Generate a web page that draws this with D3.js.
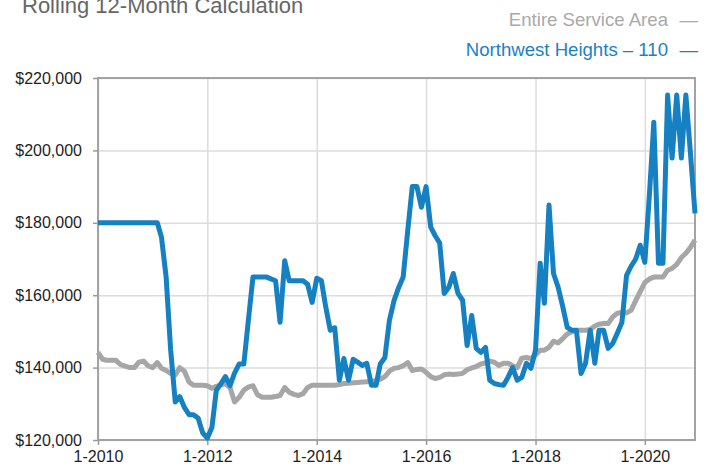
<!DOCTYPE html>
<html>
<head>
<meta charset="utf-8">
<script src="https://cdn.jsdelivr.net/npm/d3@7"></script>
<style>
    body { margin: 0; background: #fff; }
    .axis text { font-family: "Liberation Sans", Arial, sans-serif; font-size: 16px; fill: #1e1e1e; }
    .axis path { display: none; }
    .axis line { stroke: #9a9a9a; stroke-width: 1.5; }
    .grid line { stroke: #dcdcdc; stroke-width: 1.5; }
    .grid path { display: none; }
    .label { font-family: "Liberation Sans", Arial, sans-serif; }
</style>
</head>
<body>
<div id="chart-area"></div>
<script>

// Monthly values, Jan 2010 - Dec 2020 (one row per year)
let serviceAreaValues = [
    144200, 142300, 142000, 142000, 142000, 140800, 140400, 140000, 140000, 141500, 141800, 140500,
    140000, 141400, 139800, 139200, 138400, 138000, 140000, 139000, 136000, 135100, 135100, 135100,
    135000, 134300, 134800, 135200, 135600, 134500, 130500, 131800, 133800, 134600, 135000, 132500,
    131800, 131800, 131800, 132000, 132300, 134500, 133200, 132600, 132300, 132800, 134500, 135100,
    135100, 135100, 135100, 135100, 135100, 135300, 135600, 135700, 135800, 135900, 136000, 136100,
    136300, 136400, 136800, 137500, 139000, 139800, 140000, 140500, 141400, 139200, 139500, 139600,
    138700, 137500, 137000, 137300, 138000, 138200, 138100, 138200, 138400, 139400, 139900, 140300,
    141000, 141300, 141800, 141500, 140600, 141200, 141200, 140500, 140000, 142600, 142800, 142500,
    143500, 144800, 144800, 145600, 147300, 146800, 148000, 149300, 149900, 150300, 150300, 150300,
    150500, 151500, 152000, 152200, 152200, 154000, 155000, 155200, 155100, 155800, 158500, 161000,
    163500, 164500, 165000, 165000, 165000, 166900, 167400, 168500, 170400, 171600, 173200, 175200
];

let northwestValues = [
    180000, 180000, 180000, 180000, 180000, 180000, 180000, 180000, 180000, 180000, 180000, 180000,
    180000, 180000, 176000, 165000, 145000, 130500, 132000, 129000, 127000, 127000, 126000, 122000,
    120500, 123500, 133700, 135600, 137500, 135000, 138500, 141000, 141000, 153000, 165000, 165000,
    165000, 165000, 164500, 164000, 152500, 169500, 164000, 164000, 164000, 164000, 163000, 158000,
    164700, 164000, 157000, 150300, 151000, 136500, 142500, 136500, 142300, 141500, 140600, 141200,
    135100, 135100, 141000, 142800, 153000, 158500, 162000, 165000, 178000, 190000, 190000, 184300,
    190000, 178800, 176500, 174400, 160500, 162200, 166000, 160500, 158600, 146100, 154400, 145300,
    144200, 145600, 136500, 135600, 135300, 135100, 137300, 140000, 136500, 137300, 141200, 139800,
    144800, 168800, 157800, 184900, 166000, 162200, 157000, 151100, 150300, 150300, 138400, 141200,
    150300, 141200, 150300, 150300, 145300, 146700, 149500, 152500, 165500, 168000, 170000, 173800,
    169100, 188000, 207800, 168800, 168800, 215300, 197900, 215300, 197900, 215300, 199000, 182600
];

let months = d3.timeMonth.range(new Date(2010, 0, 1), new Date(2021, 0, 1));

let yTickValues = [120000, 140000, 160000, 180000, 200000, 220000];
let xTickYears = [2010, 2012, 2014, 2016, 2018, 2020];

let seriesNames = ["Entire Service Area", "Northwest Heights \u2013 110"];


class LineChartVis {

    constructor(parentElement) {
        this.parentElement = parentElement;
        this.initVis();
    }

    initVis() {
        let vis = this;

        vis.margin = { top: 78, right: 11, bottom: 26, left: 98 };
        vis.width = 706 - vis.margin.left - vis.margin.right;
        vis.height = 466 - vis.margin.top - vis.margin.bottom;

        vis.svgRoot = d3.select("#" + vis.parentElement).append("svg")
            .attr("width", 706)
            .attr("height", 466);

        vis.svg = vis.svgRoot.append("g")
            .attr("transform", "translate(" + vis.margin.left + "," + vis.margin.top + ")");

        // Scales
        vis.x = d3.scaleTime()
            .domain([months[0], months[months.length - 1]])
            .range([0, vis.width]);

        vis.y = d3.scaleLinear()
            .domain([120000, 220000])
            .range([vis.height, 0]);

        // Grid lines
        vis.svg.append("g")
            .attr("class", "grid")
            .call(d3.axisLeft(vis.y).tickValues(yTickValues).tickSize(-vis.width).tickFormat(""));

        vis.svg.append("g")
            .attr("class", "grid")
            .call(d3.axisBottom(vis.x)
                .tickValues(xTickYears.map(d => new Date(d, 0, 1)))
                .tickSize(vis.height)
                .tickFormat(""));

        // frame
        vis.svg.append("rect")
            .attr("width", vis.width)
            .attr("height", vis.height)
            .attr("fill", "none")
            .attr("stroke", "#a3a3a3")
            .attr("stroke-width", 2);

        // Axes
        vis.svg.append("g")
            .attr("class", "axis y-axis")
            .call(d3.axisLeft(vis.y)
                .tickValues(yTickValues)
                .tickSize(5)
                .tickPadding(11)
                .tickFormat(d => "$" + d3.format(",")(d)));

        vis.svg.append("g")
            .attr("class", "axis x-axis")
            .attr("transform", "translate(0," + vis.height + ")")
            .call(d3.axisBottom(vis.x)
                .tickValues(xTickYears.map(d => new Date(d, 0, 1)))
                .tickSize(5)
                .tickPadding(6)
                .tickFormat(d => "1-" + d.getFullYear()));

        // Title (cut off at the top, as in the original)
        vis.svgRoot.append("text")
            .attr("class", "label")
            .attr("x", 22)
            .attr("y", 13)
            .attr("font-size", 22)
            .attr("fill", "#666")
            .text("Rolling 12-Month Calculation");

        // Legend: name, then a dash in the series colour
        let legendColors = ["#a9a9a9", "#1a82c4"];
        seriesNames.forEach((name, i) => {
            vis.svgRoot.append("text")
                .attr("class", "label")
                .attr("x", 668)
                .attr("y", 26 + i * 30)
                .attr("text-anchor", "end")
                .attr("font-size", 18.6)
                .attr("fill", legendColors[i])
                .text(name);

            vis.svgRoot.append("text")
                .attr("class", "label")
                .attr("x", 698)
                .attr("y", 26 + i * 30)
                .attr("text-anchor", "end")
                .attr("font-size", 18.6)
                .attr("fill", legendColors[i])
                .text("\u2014");
        });

        vis.wrangleData();
    }

    wrangleData() {
        let vis = this;

        vis.displayData = [
            { name: seriesNames[0], color: "#a6a6a6", values: months.map((m, i) => ({ date: m, value: serviceAreaValues[i] })) },
            { name: seriesNames[1], color: "#1681c2", values: months.map((m, i) => ({ date: m, value: northwestValues[i] })) }
        ];

        vis.updateVis();
    }

    updateVis() {
        let vis = this;

        let line = d3.line()
            .x(d => vis.x(d.date))
            .y(d => vis.y(d.value));

        vis.svg.selectAll(".series")
            .data(vis.displayData)
            .enter()
            .append("path")
            .attr("class", "series")
            .attr("d", d => line(d.values))
            .attr("fill", "none")
            .attr("stroke", d => d.color)
            .attr("stroke-width", 5)
            .attr("stroke-linejoin", "round");
    }
}

new LineChartVis("chart-area");

</script>
</body>
</html>
